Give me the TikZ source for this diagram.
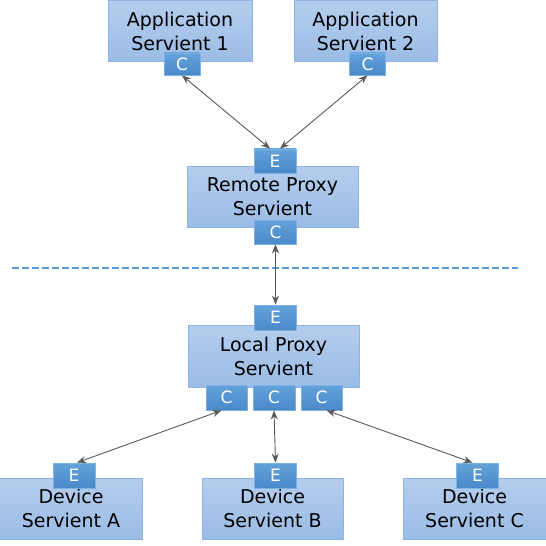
\documentclass[tikz,border=0pt]{standalone}
\usepackage{fontspec}
\setmainfont{DejaVu Sans}
\usetikzlibrary{arrows.meta}
\definecolor{boxtop}{HTML}{B4CDED}
\definecolor{boxbot}{HTML}{9BBCE5}
\definecolor{boxline}{HTML}{8DB3E2}
\definecolor{porttop}{HTML}{64A2DA}
\definecolor{portbot}{HTML}{4A89C9}
\definecolor{portline}{HTML}{7FB2E3}
\definecolor{linkgray}{HTML}{595959}
\definecolor{sepblue}{HTML}{5B9BD5}
\tikzset{
  servient/.style={draw=boxline,line width=1bp,top color=boxtop,bottom color=boxbot,
    align=center,inner sep=0pt,font=\fontsize{19bp}{24bp}\selectfont},
  iface/.style={draw=portline,line width=0.8bp,top color=porttop,bottom color=portbot,
    text=white,inner sep=0pt,minimum width=42bp,minimum height=24bp,
    font=\fontsize{17bp}{17bp}\selectfont},
  link/.style={linkgray,line width=0.9bp,
    {Stealth[length=9bp,width=7bp]}-{Stealth[length=9bp,width=7bp]}},
  sepline/.style={sepblue,line width=2.5bp,dash pattern=on 7bp off 3bp}
}
\begin{document}
\begin{tikzpicture}[x=1bp,y=-1bp]
  \useasboundingbox (0,0) rectangle (546,546);
  % application servients
  \node[servient,minimum width=144bp,minimum height=61bp] (app1) at (180,31.5) {Application\\Servient 1};
  \node[servient,minimum width=143bp,minimum height=61bp] (app2) at (365.5,31.5) {Application\\Servient 2};
  \node[iface,minimum width=36bp,minimum height=22bp] (app1c) at (182,64) {C};
  \node[iface,minimum width=36bp,minimum height=22bp] (app2c) at (367.5,64) {C};
  % remote proxy
  \node[servient,minimum width=171bp,minimum height=60bp] (remote) at (272.5,197) {Remote Proxy\\Servient};
  \node[iface] (remotee) at (275,161) {E};
  \node[iface] (remotec) at (275.5,232) {C};
  \draw[sepline] (12,268) -- (518,268);
  % local proxy
  \node[servient,minimum width=171bp,minimum height=62bp] (local) at (273.5,356) {Local Proxy\\Servient};
  \node[iface,minimum height=25bp] (locale) at (275.5,317.5) {E};
  \node[iface,minimum width=41bp,minimum height=25bp] (localc1) at (226.5,397.5) {C};
  \node[iface,minimum height=25bp] (localc2) at (274,397.5) {C};
  \node[iface,minimum width=41bp,minimum height=25bp] (localc3) at (321.5,397.5) {C};
  % device servients
  \node[servient,minimum width=142bp,minimum height=61bp] (deva) at (71,508.5) {Device\\Servient A};
  \node[servient,minimum width=141bp,minimum height=61bp] (devb) at (272.5,508.5) {Device\\Servient B};
  \node[servient,minimum width=143bp,minimum height=61bp] (devc) at (474.5,508.5) {Device\\Servient C};
  \node[iface,minimum height=25bp] (devae) at (74,475.5) {E};
  \node[iface,minimum height=25bp] (devbe) at (275.5,475.5) {E};
  \node[iface,minimum height=25bp] (devce) at (477.5,475.5) {E};
  % links
  \draw[link] (app1c.south) -- ([xshift=-5bp]remotee.north);
  \draw[link] (app2c.south) -- ([xshift=5bp]remotee.north);
  \draw[link] (remotec.south) -- (locale.north);
  \draw[link] ([xshift=-5bp]localc1.south) -- ([xshift=3bp]devae.north);
  \draw[link] (localc2.south) -- (devbe.north);
  \draw[link] ([xshift=5bp]localc3.south) -- ([xshift=-5bp]devce.north);
\end{tikzpicture}
\end{document}
